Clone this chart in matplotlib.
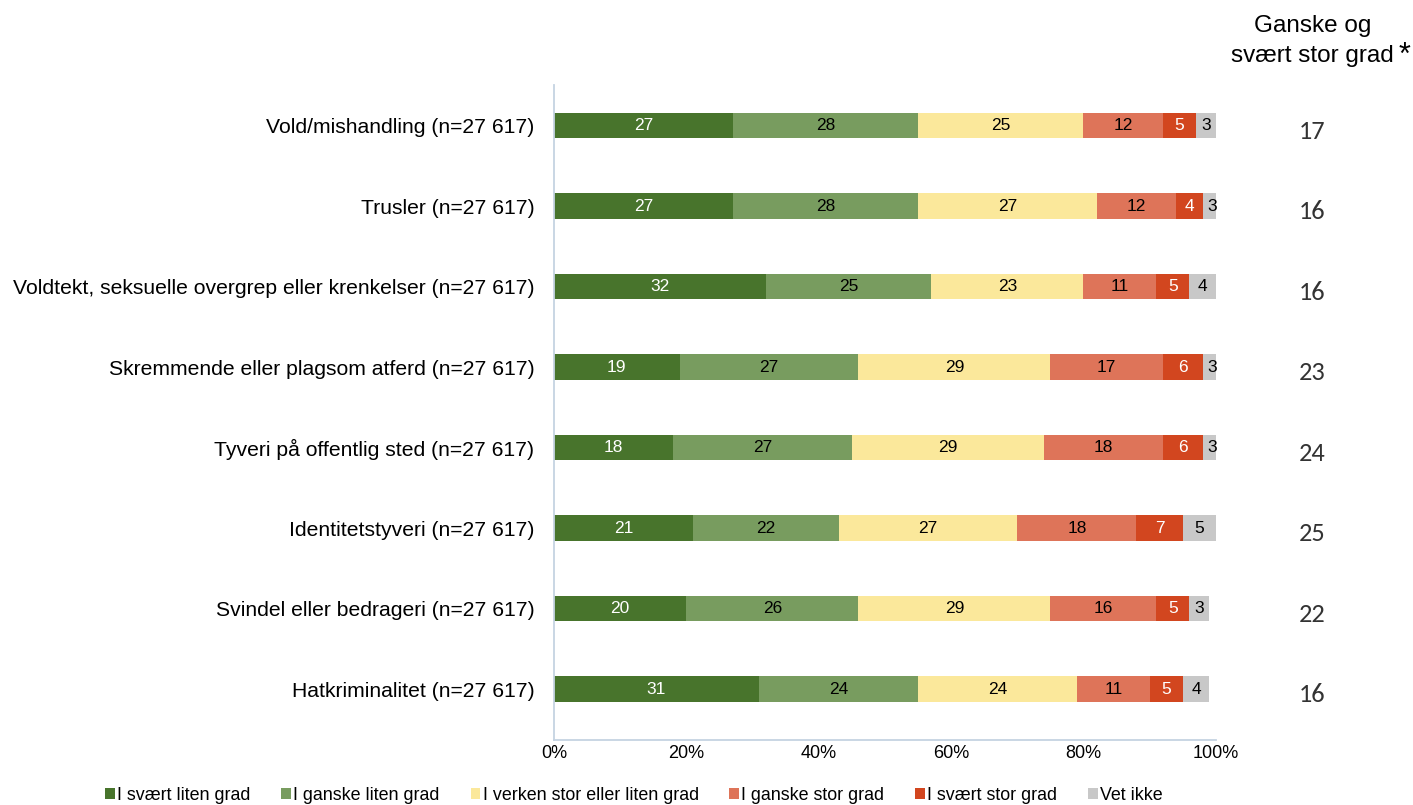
import matplotlib.pyplot as plt
import numpy as np

plt.rcParams['font.family'] = ['Liberation Sans', 'DejaVu Sans']

categories = ['Vold/mishandling (n=27 617)',
              'Trusler (n=27 617)',
              'Voldtekt, seksuelle overgrep eller krenkelser (n=27 617)',
              'Skremmende eller plagsom atferd (n=27 617)',
              'Tyveri på offentlig sted (n=27 617)',
              'Identitetstyveri (n=27 617)',
              'Svindel eller bedrageri (n=27 617)',
              'Hatkriminalitet (n=27 617)']

series_names = ['I svært liten grad', 'I ganske liten grad',
                'I verken stor eller liten grad', 'I ganske stor grad',
                'I svært stor grad', 'Vet ikke']

svaert_liten = [27, 27, 32, 19, 18, 21, 20, 31]
ganske_liten = [28, 28, 25, 27, 27, 22, 26, 24]
verken = [25, 27, 23, 29, 29, 27, 29, 24]
ganske_stor = [12, 12, 11, 17, 18, 18, 16, 11]
svaert_stor = [5, 4, 5, 6, 6, 7, 5, 5]
vet_ikke = [3, 3, 4, 3, 3, 5, 3, 4]

stor_grad_sum = [17, 16, 16, 23, 24, 25, 22, 16]

colors = ['#48742c', '#789c5f', '#fbe89b', '#de7459', '#d2461f', '#c8c8c8']
text_colors = ['white', 'black', 'black', 'black', 'white', 'black']

series = [svaert_liten, ganske_liten, verken, ganske_stor, svaert_stor, vet_ikke]

fig = plt.figure(figsize=(14.13, 8.05), dpi=100)
ax = fig.add_axes([0.392, 0.081, 0.4685, 0.813])

y = np.arange(len(categories))
left = np.zeros(len(categories))
for vals, name, c, tc in zip(series, series_names, colors, text_colors):
    vals = np.array(vals)
    ax.barh(y, vals, left=left, height=0.32, color=c, label=name)
    for yi, l, v in zip(y, left, vals):
        ax.text(l + v / 2, yi, str(v), ha='center', va='center',
                fontsize=12.5, color=tc)
    left = left + vals

ax.set_xlim(0, 100)
ax.set_ylim(7.63, -0.5)
ax.set_yticks(y)
ax.set_yticklabels(categories, fontsize=15.2)
ax.set_xticks([0, 20, 40, 60, 80, 100])
ax.set_xticklabels(['0%', '20%', '40%', '60%', '80%', '100%'], fontsize=13)
ax.tick_params(axis='both', length=0)
ax.tick_params(axis='y', pad=14)
ax.tick_params(axis='x', pad=4)
for s in ['top', 'right']:
    ax.spines[s].set_visible(False)
for s in ['left', 'bottom']:
    ax.spines[s].set_color('#c5d3e2')
    ax.spines[s].set_linewidth(1.3)

# right column
for yi, v in zip(y, stor_grad_sum):
    ax.text(114.6, yi + 0.07, str(v), ha='center', va='center', fontsize=19,
            color='#333333', family=['Carlito', 'Liberation Sans', 'DejaVu Sans'],
            clip_on=False)
fig.text(0.929, 0.949, 'Ganske og\nsvært stor grad', ha='center', va='center',
         fontsize=17.5, linespacing=1.42)
fig.text(0.994, 0.93, '*', ha='center', va='center', fontsize=22)

leg = fig.legend(loc='lower left', bbox_to_anchor=(0.063, -0.019), ncol=6,
                 frameon=False, fontsize=12.9, handlelength=0.55, handleheight=0.55,
                 handletextpad=0.12, columnspacing=1.72)

fig.savefig('out.png', dpi=100)
